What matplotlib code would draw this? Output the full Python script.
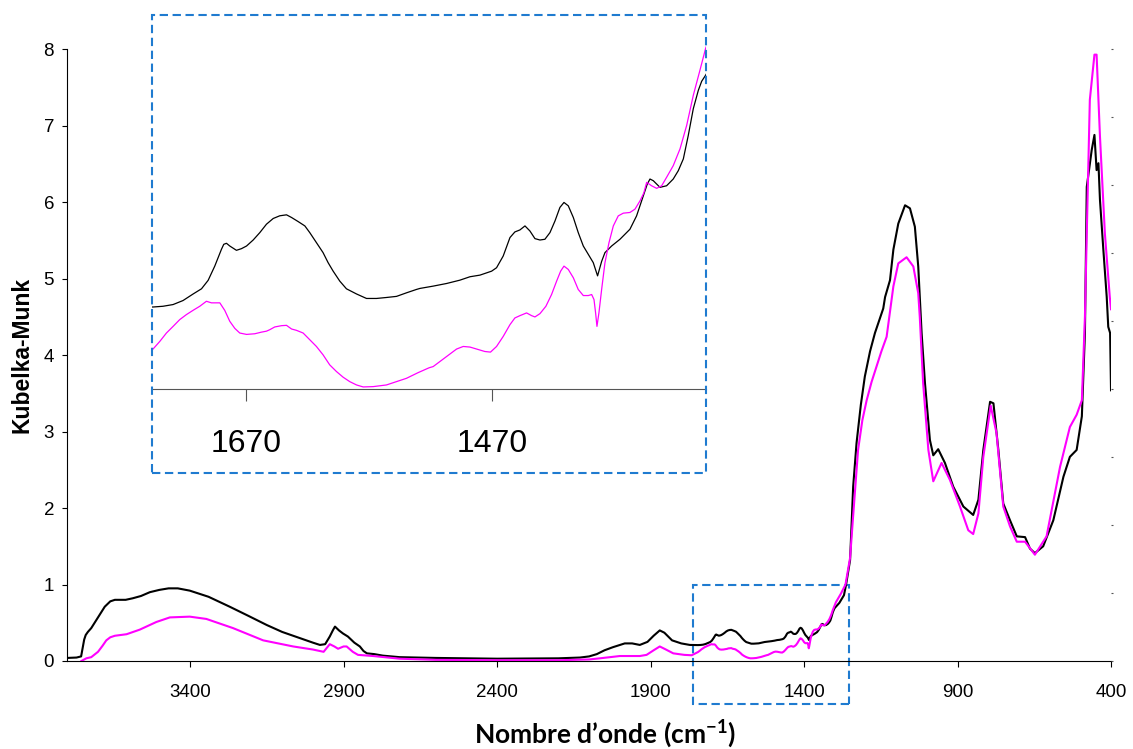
import matplotlib.pyplot as plt
from matplotlib.patches import Rectangle

plt.rcParams['font.family'] = ['Liberation Sans', 'DejaVu Sans']
plt.rcParams['mathtext.fontset'] = 'custom'
plt.rcParams['mathtext.rm'] = 'Lato'
plt.rcParams['mathtext.bf'] = 'Lato:bold'

# spectre 1 (noir)
wn_noir = [3800, 3770, 3755, 3745, 3740, 3733, 3722, 3711, 3695, 3678, 3660, 3645,
           3610, 3587, 3560, 3531, 3500, 3470, 3440, 3401, 3340, 3271, 3210, 3150,
           3100, 3043, 3000, 2977, 2960, 2945, 2935, 2928, 2915, 2902, 2886, 2865,
           2847, 2835, 2824, 2800, 2772, 2717, 2600, 2400, 2200, 2130, 2100, 2075,
           2050, 2023, 2000, 1984, 1960, 1935, 1910, 1890, 1870, 1855, 1830, 1800,
           1772,
           1745.4, 1737.3, 1729.1, 1721, 1712.8, 1706, 1700.6, 1695.2, 1689.8, 1687.9,
           1685.7, 1683, 1677.6, 1673.5, 1669.4, 1664, 1658.6, 1653.2, 1647.7, 1642.4,
           1636.9, 1632.8, 1627.5, 1622, 1618, 1612.6, 1607.2, 1603.1, 1599, 1593.6,
           1588.2, 1580, 1571.9, 1563.8, 1555.7, 1547.5, 1539.4, 1531.3, 1528.5, 1517.7,
           1506.8, 1496, 1487.8, 1479.7, 1470.2, 1466.2, 1460.8, 1455.3, 1451.3, 1447.2,
           1443.1, 1439.1, 1435, 1430.9, 1426.9, 1422.8, 1418.7, 1414.7, 1411.4, 1407.9,
           1403.8, 1399.8, 1395.7, 1391.6, 1387.6, 1384.1, 1380.8, 1378.1, 1372.7, 1365.9,
           1357.8, 1352.4, 1346.9, 1343.7, 1341.5, 1338.8, 1333.4, 1328, 1322.6, 1318.5,
           1314.4, 1310.4, 1306.3, 1302.2, 1299.5, 1296.3,
           1285, 1270, 1263, 1250, 1240, 1229, 1215, 1202, 1185, 1169, 1142, 1136, 1120,
           1109, 1093, 1071, 1055, 1039, 1028, 1017, 1006, 990, 979, 963, 941,
           914, 881, 849, 832, 816, 794, 783, 767, 751, 729, 707, 680,
           664, 648, 621, 588, 555, 534, 512, 495, 485, 479, 463, 454,
           447, 441, 436, 425, 414, 409, 403, 400]
km_noir = [0.04, 0.045, 0.06, 0.28, 0.34, 0.38, 0.43, 0.50, 0.60, 0.71, 0.78, 0.80,
           0.80, 0.82, 0.85, 0.90, 0.93, 0.95, 0.95, 0.92, 0.84, 0.71, 0.59, 0.47,
           0.38, 0.30, 0.24, 0.21, 0.22, 0.32, 0.40, 0.45, 0.40, 0.36, 0.32, 0.24,
           0.19, 0.13, 0.10, 0.09, 0.07, 0.05, 0.04, 0.03, 0.035, 0.045, 0.06, 0.09,
           0.14, 0.18, 0.21, 0.23, 0.23, 0.21, 0.25, 0.33, 0.40, 0.37, 0.27, 0.23,
           0.21,
           0.208, 0.2096, 0.2133, 0.222, 0.2362, 0.2474, 0.2657, 0.2966, 0.3328, 0.3437,
           0.3459, 0.340, 0.3307, 0.3343, 0.340, 0.353, 0.369, 0.3872, 0.3996, 0.4054,
           0.4075, 0.4017, 0.393, 0.3835, 0.369, 0.3474, 0.3257, 0.304, 0.2856, 0.264,
           0.2474, 0.2362, 0.2265, 0.2265, 0.2286, 0.231, 0.2387, 0.246, 0.2482, 0.2532,
           0.2589, 0.2661, 0.2735, 0.277, 0.2856, 0.293, 0.3183, 0.3583, 0.3705, 0.3748,
           0.3835, 0.3726, 0.356, 0.353, 0.3546, 0.369, 0.3943, 0.4235, 0.4343, 0.427,
           0.4017, 0.369, 0.340, 0.322, 0.304, 0.2754, 0.3067, 0.3257, 0.340, 0.3546,
           0.3763, 0.4052, 0.4487, 0.4741, 0.485, 0.4813, 0.467, 0.4704, 0.485, 0.503,
           0.5285, 0.5791, 0.6372, 0.677, 0.6965, 0.7096,
           0.76, 0.86, 1.00, 1.32, 2.28, 2.85, 3.35, 3.72, 4.05, 4.29, 4.61, 4.76, 4.98,
           5.38, 5.72, 5.96, 5.92, 5.68, 5.16, 4.29, 3.63, 2.89, 2.69, 2.77, 2.59,
           2.28, 2.02, 1.91, 2.11, 2.76, 3.39, 3.37, 2.76, 2.06, 1.84, 1.63, 1.62,
           1.47, 1.41, 1.50, 1.84, 2.41, 2.67, 2.76, 3.20, 4.29, 6.20, 6.68, 6.88,
           6.42, 6.51, 6.03, 5.38, 4.76, 4.37, 4.29, 3.54]

# spectre 2 (magenta)
wn_rose = [3754, 3738, 3722, 3700, 3685, 3673, 3660, 3645, 3607, 3564, 3510, 3466,
           3401, 3347, 3260, 3162, 3064, 3000, 2965, 2945, 2930, 2918, 2900, 2890,
           2870, 2853, 2804, 2717, 2600, 2400, 2200, 2100, 2065, 2000, 1935, 1913,
           1890, 1870, 1850, 1826, 1790, 1766,
           1745.4, 1739.9, 1734.5, 1729.1, 1723.7, 1718.3, 1712.8, 1707.4, 1702, 1697.9,
           1691.1, 1687.1, 1683, 1678.9, 1674.9, 1669.4, 1662.7, 1657.3, 1653.2, 1650.5,
           1646.5, 1641, 1636.9, 1632.8, 1628.8, 1623.4, 1618, 1612.6, 1607.2, 1601.8,
           1596.3, 1590.9, 1585.5, 1580, 1574.6, 1566.5, 1555.7, 1547.5, 1539.4, 1530,
           1521, 1517.7, 1506.8, 1498.7, 1493.3, 1487.8, 1482.4, 1475.7, 1471.1, 1466.2,
           1460.8, 1455.3, 1451.3, 1447.2, 1441.8, 1437.7, 1435, 1430.9, 1426.1, 1421.5,
           1417.4, 1414.1, 1411.4, 1407.9, 1403.8, 1399.8, 1395.7, 1391.6, 1388.9, 1387,
           1385.7, 1384.6, 1383, 1380.8, 1378.1, 1374.8, 1371.3, 1367.3, 1363.2, 1357.8,
           1353.7, 1349.6, 1346.5, 1344.2, 1340.2, 1336.1, 1332, 1328, 1322.6, 1317.1,
           1311.7, 1306.3, 1300.9, 1296.3,
           1280, 1265, 1250, 1240, 1224, 1210, 1196, 1180, 1164, 1148, 1131, 1115,
           1109, 1093, 1066, 1044, 1028, 1023,
           1012, 995, 979, 952, 925, 892, 865, 849, 832, 816, 792, 773,
           751, 729, 707, 680, 648, 610, 566, 534, 512, 495, 485, 479,
           469, 454, 447, 436, 420, 404, 400]
km_rose = [0.0, 0.035, 0.05, 0.12, 0.20, 0.27, 0.31, 0.33, 0.35, 0.41, 0.51, 0.57,
           0.58, 0.55, 0.43, 0.27, 0.19, 0.15, 0.12, 0.22, 0.19, 0.16, 0.19, 0.19,
           0.12, 0.08, 0.065, 0.03, 0.015, 0.01, 0.01, 0.02, 0.035, 0.065, 0.065, 0.08,
           0.14, 0.19, 0.15, 0.10, 0.08, 0.075,
           0.117, 0.1335, 0.1517, 0.166, 0.1807, 0.1915, 0.2009, 0.2096, 0.2204, 0.217,
           0.217, 0.2007, 0.177, 0.1617, 0.1517, 0.1487, 0.1501, 0.1536, 0.1557, 0.1589,
           0.1648, 0.1676, 0.1683, 0.1604, 0.1575, 0.1517, 0.1372, 0.1226, 0.1045, 0.0828,
           0.0683, 0.0561, 0.0465, 0.0393, 0.035, 0.0357, 0.0393, 0.0465, 0.0537, 0.0659,
           0.0765, 0.0791, 0.1009, 0.117, 0.1226, 0.1213, 0.117, 0.1117, 0.1104, 0.1226,
           0.1443, 0.1698, 0.1843, 0.1893, 0.1952, 0.1893, 0.1865, 0.1937, 0.2096, 0.235,
           0.2639, 0.2857, 0.2965, 0.2893, 0.2713, 0.2459, 0.2328, 0.2328, 0.235, 0.2241,
           0.1952, 0.1661, 0.1952, 0.2459, 0.3039, 0.3474, 0.3835, 0.4052, 0.4111, 0.4126,
           0.4198, 0.4378, 0.455, 0.4778, 0.4704, 0.4648, 0.4704, 0.4887, 0.5139, 0.5502,
           0.6009, 0.6661, 0.7204, 0.7676,
           0.88, 1.00, 1.35, 1.90, 2.76, 3.15, 3.41, 3.65, 3.85, 4.05, 4.24, 4.72,
           4.90, 5.20, 5.28, 5.16, 4.81, 4.50,
           3.63, 2.76, 2.35, 2.59, 2.37, 2.02, 1.71, 1.66, 1.93, 2.67, 3.34, 2.98,
           2.02, 1.76, 1.56, 1.56, 1.39, 1.63, 2.54, 3.06, 3.22, 3.41, 4.50, 5.59,
           7.34, 7.93, 7.93, 6.86, 5.59, 4.76, 4.60]

x_ticks = [3400, 2900, 2400, 1900, 1400, 900, 400]
y_ticks = [0, 1, 2, 3, 4, 5, 6, 7, 8]
zoom_ticks = [1670, 1470]

bleu = '#1f7bd0'
fig = plt.figure(figsize=(11.33, 7.49), dpi=100)

ax = fig.add_axes([0.0594, 0.1175, 0.9212, 0.8167])
ax.plot(wn_noir, km_noir, color='black', lw=1.5)
ax.plot(wn_rose, km_rose, color='#ff00ff', lw=1.5)
ax.set_xlim(3800, 400)
ax.set_ylim(0, 8)
ax.set_xticks(x_ticks)
ax.set_yticks(y_ticks)
ax.spines['top'].set_visible(False)
ax.spines['right'].set_visible(False)
ax.tick_params(axis='x', labelsize=13.5, length=4.3, pad=12)
ax.tick_params(axis='y', labelsize=13.5, length=3.5, pad=6)

# petites graduations a droite
ax2 = ax.twinx()
ax2.set_ylim(0, 9)
ax2.set_yticks(range(10))
ax2.tick_params(axis='y', length=1.5, labelright=False, color='#555555')
for s in ax2.spines.values():
    s.set_visible(False)

# cadre de la zone agrandie
ax.add_patch(Rectangle((1254, -0.56), 509, 1.56, fill=False, ec=bleu, lw=1.5,
                       ls=(0, (4, 2.2)), clip_on=False))

fig.text(22 / 1133, (749 - 355) / 749, 'Kubelka-Munk', rotation=90, ha='center',
         va='center', fontsize=16.5, fontweight='bold')
fig.text(605 / 1133, (749 - 734) / 749, r'Nombre d’onde (cm$^{\mathbf{-1}}$)',
         ha='center', va='center', fontsize=19, fontweight='bold', family='Lato')

# encart
ins = fig.add_axes([0.1344, 0.4803, 0.4887, 0.4997])
ins.patch.set_alpha(0)
ins.plot(wn_noir, km_noir, color='black', lw=0.9)
ins.plot(wn_rose, km_rose, color='#ff00ff', lw=0.9)
ins.set_xlim(1746, 1296)
ins.set_ylim(0.03, 0.84)
ins.set_xticks(zoom_ticks)
ins.set_yticks([])
for k in ['top', 'right', 'left']:
    ins.spines[k].set_visible(False)
ins.spines['bottom'].set_color('#555555')
ins.tick_params(axis='x', labelsize=23, length=8.6, pad=20, color='#555555')

fig.add_artist(Rectangle((152.3 / 1133, (749 - 473) / 749), (706 - 152.3) / 1133,
                         (473 - 15) / 749, transform=fig.transFigure, fill=False,
                         ec=bleu, lw=1.5, ls=(0, (4, 2.2))))

fig.savefig('out.png', dpi=100)
